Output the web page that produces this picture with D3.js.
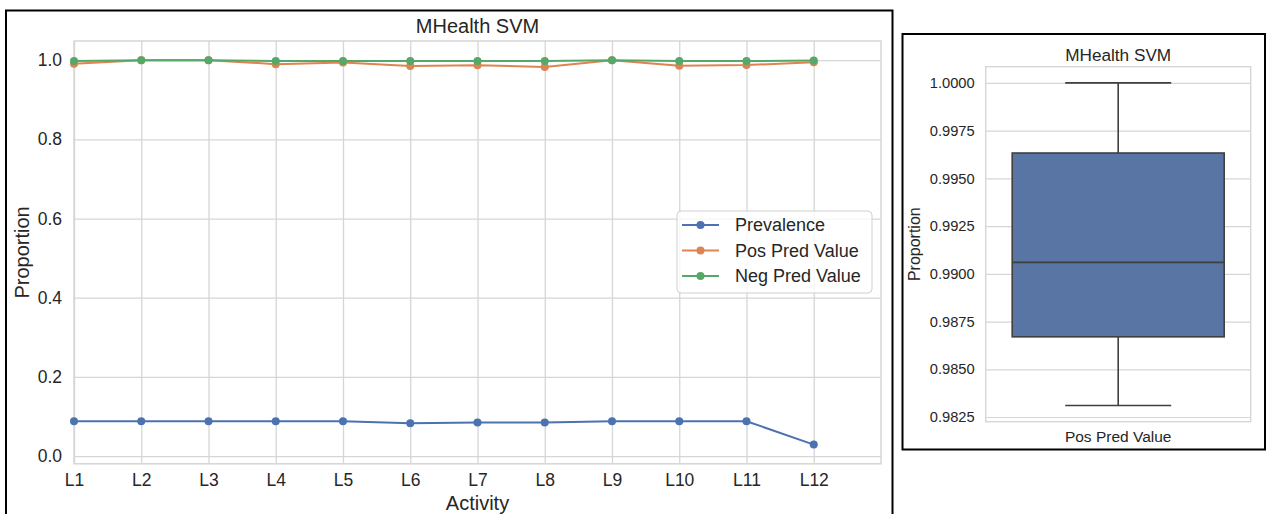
<!DOCTYPE html>
<html>
<head>
<meta charset="utf-8">
<script src="https://cdn.jsdelivr.net/npm/d3@7"></script>
<style>
  html, body { margin: 0; padding: 0; background: #fff; }
  svg { display: block; font-family: "Liberation Sans", Arial, sans-serif; }
</style>
</head>
<body>
<svg id="chart" width="1270" height="514"></svg>
<script>
// Per-activity metrics for the MHealth SVM classifier
const activities = ["L1", "L2", "L3", "L4", "L5", "L6", "L7", "L8", "L9", "L10", "L11", "L12"];
const prevalence   = [0.088, 0.088, 0.088, 0.088, 0.088, 0.083, 0.085, 0.085, 0.088, 0.088, 0.088, 0.029];
const posPredValue = [0.9911, 1.0, 1.0, 0.9901, 0.9940, 0.9855, 0.9870, 0.9831, 1.0, 0.9858, 0.9878, 0.9951];
const negPredValue = [0.998, 1.0, 1.0, 0.998, 0.998, 0.998, 0.998, 0.998, 1.0, 0.998, 0.998, 0.999];
const seriesNames  = ["Prevalence", "Pos Pred Value", "Neg Pred Value"];
const lineYTicks   = [0, 0.2, 0.4, 0.6, 0.8, 1.0];
const boxYTicks    = [0.9825, 0.985, 0.9875, 0.99, 0.9925, 0.995, 0.9975, 1.0];

const colors = ["#4C72B0", "#DD8452", "#55A868"];
const textColor = "#262626";
const gridColor = "#d6d6d6";

const svg = d3.select("#chart");

// Pad a data extent by 5% on each side
function padded(ext) {
  const m = (ext[1] - ext[0]) * 0.05;
  return [ext[0] - m, ext[1] + m];
}

// ---------- Left panel: line chart ----------
const L = { left: 74, right: 881, top: 41, bottom: 463.8 };
const series = [prevalence, posPredValue, negPredValue];

const x = d3.scaleLinear().domain([0, activities.length]).range([L.left, L.right]);
const y = d3.scaleLinear()
  .domain(padded(d3.extent(series.flat())))
  .range([L.bottom, L.top]);

svg.append("rect")
  .attr("x", 6).attr("y", 10.5).attr("width", 886.5).attr("height", 520)
  .attr("fill", "none").attr("stroke", "#000").attr("stroke-width", 2);

const gL = svg.append("g");

// grid
const xGrid = d3.axisBottom(x).tickValues(d3.range(activities.length))
  .tickSize(-(L.bottom - L.top)).tickFormat("");
gL.append("g").attr("transform", `translate(0,${L.bottom})`).call(xGrid)
  .call(g => g.select(".domain").remove())
  .selectAll("line").attr("stroke", gridColor).attr("stroke-width", 1.3);

const yGrid = d3.axisLeft(y).tickValues(lineYTicks)
  .tickSize(-(L.right - L.left)).tickFormat("");
gL.append("g").attr("transform", `translate(${L.left},0)`).call(yGrid)
  .call(g => g.select(".domain").remove())
  .selectAll("line").attr("stroke", gridColor).attr("stroke-width", 1.3);

gL.append("rect")
  .attr("x", L.left).attr("y", L.top)
  .attr("width", L.right - L.left).attr("height", L.bottom - L.top)
  .attr("fill", "none").attr("stroke", gridColor).attr("stroke-width", 1.5);

// tick labels
const xAxis = d3.axisBottom(x).tickValues(d3.range(activities.length))
  .tickSize(0).tickPadding(10).tickFormat(i => activities[i]);
gL.append("g").attr("transform", `translate(0,${L.bottom})`).call(xAxis)
  .call(g => g.select(".domain").remove())
  .selectAll("text").attr("fill", textColor).attr("font-size", 17.5)
  .attr("font-family", "Liberation Sans, Arial, sans-serif");

const yAxis = d3.axisLeft(y).tickValues(lineYTicks)
  .tickSize(0).tickPadding(12).tickFormat(d3.format(".1f"));
gL.append("g").attr("transform", `translate(${L.left},0)`).call(yAxis)
  .call(g => g.select(".domain").remove())
  .selectAll("text").attr("fill", textColor).attr("font-size", 17.5)
  .attr("font-family", "Liberation Sans, Arial, sans-serif");

// lines + markers
const line = d3.line().x((d, i) => x(i)).y(d => y(d));
series.forEach((vals, k) => {
  gL.append("path").datum(vals)
    .attr("d", line).attr("fill", "none")
    .attr("stroke", colors[k]).attr("stroke-width", 2).attr("stroke-linejoin", "round");
  gL.append("g").selectAll("circle").data(vals).join("circle")
    .attr("cx", (d, i) => x(i)).attr("cy", d => y(d)).attr("r", 4)
    .attr("fill", colors[k]);
});

// titles
gL.append("text").attr("x", (L.left + L.right) / 2).attr("y", 33.3)
  .attr("text-anchor", "middle").attr("font-size", 20).attr("fill", textColor)
  .text("MHealth SVM");
gL.append("text").attr("x", (L.left + L.right) / 2).attr("y", 510)
  .attr("text-anchor", "middle").attr("font-size", 20).attr("fill", textColor)
  .text("Activity");
gL.append("text")
  .attr("transform", `translate(29,${(L.top + L.bottom) / 2}) rotate(-90)`)
  .attr("text-anchor", "middle").attr("font-size", 20).attr("fill", textColor)
  .text("Proportion");

// legend
const leg = gL.append("g");
leg.append("rect").attr("x", 677).attr("y", 211).attr("width", 195).attr("height", 82)
  .attr("rx", 4).attr("fill", "#fff").attr("fill-opacity", 0.8)
  .attr("stroke", "#d0d0d0").attr("stroke-width", 1);
seriesNames.forEach((name, k) => {
  const cy = 225 + k * 25.5;
  leg.append("line").attr("x1", 682).attr("x2", 719).attr("y1", cy).attr("y2", cy)
    .attr("stroke", colors[k]).attr("stroke-width", 2);
  leg.append("circle").attr("cx", 700.5).attr("cy", cy).attr("r", 4).attr("fill", colors[k]);
  leg.append("text").attr("x", 735).attr("y", cy + 6.3)
    .attr("font-size", 18).attr("fill", textColor).text(name);
});

// ---------- Right panel: box plot of Pos Pred Value ----------
const R = { left: 985.7, right: 1250.7, top: 66.7, bottom: 421.7 };

svg.append("rect")
  .attr("x", 902.5).attr("y", 34).attr("width", 362.5).attr("height", 415.5)
  .attr("fill", "none").attr("stroke", "#000").attr("stroke-width", 2);

const gR = svg.append("g");
const bx = d3.scaleBand().domain(["Pos Pred Value"]).range([R.left, R.right]).paddingInner(0).paddingOuter(0);
const by = d3.scaleLinear().domain(padded(d3.extent(posPredValue))).range([R.bottom, R.top]);

const byGrid = d3.axisLeft(by).tickValues(boxYTicks)
  .tickSize(-(R.right - R.left)).tickFormat("");
gR.append("g").attr("transform", `translate(${R.left},0)`).call(byGrid)
  .call(g => g.select(".domain").remove())
  .selectAll("line").attr("stroke", gridColor).attr("stroke-width", 1.2);

gR.append("rect")
  .attr("x", R.left).attr("y", R.top)
  .attr("width", R.right - R.left).attr("height", R.bottom - R.top)
  .attr("fill", "none").attr("stroke", gridColor).attr("stroke-width", 1.4);

const byAxis = d3.axisLeft(by).tickValues(boxYTicks)
  .tickSize(0).tickPadding(11).tickFormat(d3.format(".4f"));
gR.append("g").attr("transform", `translate(${R.left},0)`).call(byAxis)
  .call(g => g.select(".domain").remove())
  .selectAll("text").attr("fill", textColor).attr("font-size", 14.7)
  .attr("font-family", "Liberation Sans, Arial, sans-serif");

// box statistics
const sorted = posPredValue.slice().sort(d3.ascending);
const q1 = d3.quantileSorted(sorted, 0.25);
const med = d3.quantileSorted(sorted, 0.5);
const q3 = d3.quantileSorted(sorted, 0.75);
const iqr = q3 - q1;
const lo = d3.min(sorted.filter(v => v >= q1 - 1.5 * iqr));
const hi = d3.max(sorted.filter(v => v <= q3 + 1.5 * iqr));

const cx = bx("Pos Pred Value") + bx.bandwidth() / 2;
const bw = bx.bandwidth() * 0.8;
const edge = "#3f3f3f";

gR.append("line").attr("x1", cx).attr("x2", cx).attr("y1", by(hi)).attr("y2", by(q3))
  .attr("stroke", edge).attr("stroke-width", 1.6);
gR.append("line").attr("x1", cx).attr("x2", cx).attr("y1", by(q1)).attr("y2", by(lo))
  .attr("stroke", edge).attr("stroke-width", 1.6);
[hi, lo].forEach(v => gR.append("line")
  .attr("x1", cx - bw / 4).attr("x2", cx + bw / 4).attr("y1", by(v)).attr("y2", by(v))
  .attr("stroke", edge).attr("stroke-width", 1.6));
gR.append("rect").attr("x", cx - bw / 2).attr("y", by(q3))
  .attr("width", bw).attr("height", by(q1) - by(q3))
  .attr("fill", "#5875A4").attr("stroke", edge).attr("stroke-width", 1.6);
gR.append("line").attr("x1", cx - bw / 2).attr("x2", cx + bw / 2).attr("y1", by(med)).attr("y2", by(med))
  .attr("stroke", edge).attr("stroke-width", 1.6);

gR.append("text").attr("x", cx).attr("y", 60.7)
  .attr("text-anchor", "middle").attr("font-size", 17.2).attr("fill", textColor)
  .text("MHealth SVM");
gR.append("text").attr("x", cx).attr("y", 442.3)
  .attr("text-anchor", "middle").attr("font-size", 15.5).attr("fill", textColor)
  .text("Pos Pred Value");
gR.append("text")
  .attr("transform", `translate(919.5,${(R.top + R.bottom) / 2}) rotate(-90)`)
  .attr("text-anchor", "middle").attr("font-size", 16).attr("fill", textColor)
  .text("Proportion");
</script>
</body>
</html>
